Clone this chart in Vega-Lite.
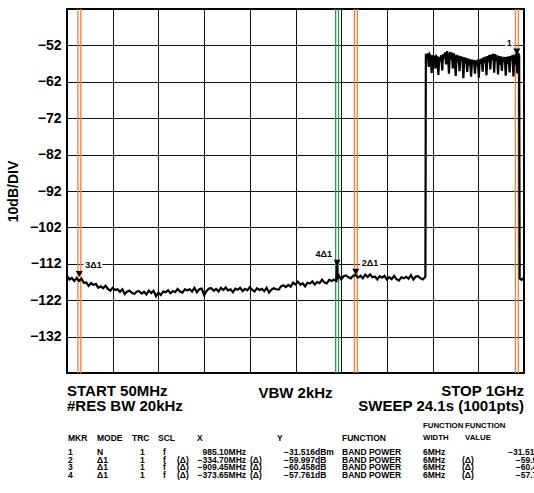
{
  "$schema": "https://vega.github.io/schema/vega-lite/v6.json",
  "width": 457,
  "height": 364,
  "autosize": "none",
  "padding": {"left": 67, "top": 9, "right": 10, "bottom": 120},
  "background": "white",
  "config": {
    "view": {"stroke": "#000", "strokeWidth": 2},
    "font": "Liberation Sans",
    "text": {"font": "Liberation Sans", "fontWeight": "bold", "color": "#000"}
  },
  "datasets": {
    "one": [{}],
    "trace": [
      {"f":50,"db":-115.3},{"f":55,"db":-116.3},{"f":60,"db":-115.9},{"f":65,"db":-116.7},{"f":70,"db":-115.9},
      {"f":75,"db":-116.7},{"f":80,"db":-116.1},{"f":85,"db":-117.2},{"f":90,"db":-117.1},{"f":95,"db":-118.1},
      {"f":100,"db":-117.3},{"f":105,"db":-117.8},{"f":110,"db":-117.5},{"f":115,"db":-118.6},{"f":120,"db":-118.2},
      {"f":125,"db":-118.7},{"f":130,"db":-118.0},{"f":135,"db":-118.9},{"f":140,"db":-119.4},{"f":145,"db":-118.6},
      {"f":150,"db":-119.2},{"f":155,"db":-119.0},{"f":160,"db":-119.7},{"f":165,"db":-119.0},{"f":170,"db":-120.3},
      {"f":175,"db":-119.6},{"f":180,"db":-119.4},{"f":185,"db":-120.0},{"f":190,"db":-120.3},{"f":195,"db":-119.6},
      {"f":200,"db":-119.5},{"f":205,"db":-120.2},{"f":210,"db":-119.7},{"f":215,"db":-120.4},{"f":220,"db":-119.4},
      {"f":225,"db":-120.0},{"f":230,"db":-119.4},{"f":235,"db":-120.9},{"f":240,"db":-119.9},{"f":245,"db":-120.6},
      {"f":250,"db":-119.6},{"f":255,"db":-119.8},{"f":260,"db":-119.3},{"f":265,"db":-120.1},{"f":270,"db":-119.5},
      {"f":275,"db":-119.8},{"f":280,"db":-118.9},{"f":285,"db":-119.6},{"f":290,"db":-119.9},{"f":295,"db":-119.0},
      {"f":300,"db":-119.3},{"f":305,"db":-119.0},{"f":310,"db":-119.6},{"f":315,"db":-118.6},{"f":320,"db":-119.8},
      {"f":325,"db":-119.0},{"f":330,"db":-118.8},{"f":335,"db":-120.6},{"f":340,"db":-119.5},{"f":345,"db":-118.8},
      {"f":350,"db":-118.7},{"f":355,"db":-119.4},{"f":360,"db":-118.9},{"f":365,"db":-119.6},{"f":370,"db":-118.6},
      {"f":375,"db":-119.2},{"f":380,"db":-118.5},{"f":385,"db":-119.3},{"f":390,"db":-119.0},{"f":395,"db":-119.8},
      {"f":400,"db":-118.8},{"f":405,"db":-119.1},{"f":410,"db":-118.6},{"f":415,"db":-119.5},{"f":420,"db":-118.9},
      {"f":425,"db":-119.3},{"f":430,"db":-118.4},{"f":435,"db":-119.2},{"f":440,"db":-119.6},{"f":445,"db":-118.7},
      {"f":450,"db":-119.2},{"f":455,"db":-118.9},{"f":460,"db":-119.5},{"f":465,"db":-118.6},{"f":470,"db":-119.9},
      {"f":475,"db":-119.1},{"f":480,"db":-118.7},{"f":485,"db":-119.0},{"f":490,"db":-119.1},{"f":495,"db":-118.2},
      {"f":500,"db":-117.9},{"f":505,"db":-118.4},{"f":510,"db":-117.8},{"f":515,"db":-118.3},{"f":520,"db":-117.2},
      {"f":525,"db":-117.7},{"f":530,"db":-116.9},{"f":535,"db":-117.7},{"f":540,"db":-117.4},{"f":545,"db":-118.2},
      {"f":550,"db":-117.2},{"f":555,"db":-117.4},{"f":560,"db":-116.8},{"f":565,"db":-117.7},{"f":570,"db":-117.0},
      {"f":575,"db":-117.3},{"f":580,"db":-116.4},{"f":585,"db":-117.1},{"f":590,"db":-117.4},{"f":595,"db":-116.4},
      {"f":600,"db":-116.7},{"f":605,"db":-116.3},{"f":610,"db":-116.7},{"f":611,"db":-112.4},{"f":612,"db":-116.2},
      {"f":615,"db":-115.2},{"f":620,"db":-116.3},
      {"f":625,"db":-115.4},{"f":630,"db":-115.2},{"f":635,"db":-115.7},{"f":640,"db":-116.0},{"f":645,"db":-115.3},
      {"f":650,"db":-115.1},{"f":655,"db":-115.8},{"f":660,"db":-115.3},{"f":665,"db":-116.0},{"f":670,"db":-115.0},
      {"f":675,"db":-115.6},{"f":680,"db":-114.9},{"f":685,"db":-115.7},{"f":690,"db":-115.5},{"f":695,"db":-116.3},
      {"f":700,"db":-115.4},{"f":705,"db":-115.8},{"f":710,"db":-115.3},{"f":715,"db":-116.3},{"f":720,"db":-115.7},
      {"f":725,"db":-116.2},{"f":730,"db":-115.3},{"f":735,"db":-116.2},{"f":740,"db":-116.6},{"f":745,"db":-115.7},
      {"f":750,"db":-116.0},{"f":755,"db":-115.6},{"f":760,"db":-116.1},{"f":765,"db":-115.1},{"f":770,"db":-116.3},
      {"f":775,"db":-115.5},{"f":780,"db":-115.4},{"f":785,"db":-116.0},{"f":790,"db":-116.3},{"f":795,"db":-115.5},
      {"f":796,"db":-54.3},{"f":798,"db":-55.5},{"f":800,"db":-54.2},{"f":802,"db":-57.9},{"f":804,"db":-54.5},
      {"f":806,"db":-55.0},{"f":808,"db":-59.6},{"f":810,"db":-54.7},{"f":812,"db":-56.2},{"f":814,"db":-54.8},
      {"f":816,"db":-58.4},{"f":818,"db":-55.0},{"f":820,"db":-55.3},{"f":822,"db":-60.1},{"f":824,"db":-55.1},
      {"f":826,"db":-56.5},{"f":828,"db":-54.7},{"f":830,"db":-58.9},{"f":832,"db":-54.4},{"f":834,"db":-55.6},
      {"f":836,"db":-53.9},{"f":838,"db":-57.2},{"f":840,"db":-53.6},{"f":842,"db":-55.0},{"f":844,"db":-59.8},
      {"f":846,"db":-53.8},{"f":848,"db":-56.0},{"f":850,"db":-54.0},{"f":852,"db":-58.3},{"f":854,"db":-54.2},
      {"f":856,"db":-55.4},{"f":858,"db":-60.4},{"f":860,"db":-54.6},{"f":862,"db":-56.7},{"f":864,"db":-54.8},
      {"f":866,"db":-59.1},{"f":868,"db":-55.0},{"f":870,"db":-56.1},{"f":872,"db":-55.1},{"f":874,"db":-61.0},
      {"f":876,"db":-55.3},{"f":878,"db":-57.0},{"f":880,"db":-55.4},{"f":882,"db":-59.3},{"f":884,"db":-55.6},
      {"f":886,"db":-57.5},{"f":888,"db":-55.8},{"f":890,"db":-60.6},{"f":892,"db":-55.9},{"f":894,"db":-57.2},
      {"f":896,"db":-56.0},{"f":898,"db":-59.8},{"f":900,"db":-56.1},{"f":902,"db":-57.6},{"f":904,"db":-55.9},
      {"f":906,"db":-60.9},{"f":908,"db":-55.8},{"f":910,"db":-57.0},{"f":912,"db":-55.6},{"f":914,"db":-59.2},
      {"f":916,"db":-55.3},{"f":918,"db":-56.8},{"f":920,"db":-55.1},{"f":922,"db":-60.2},{"f":924,"db":-54.9},
      {"f":926,"db":-56.6},{"f":928,"db":-54.6},{"f":930,"db":-58.6},{"f":932,"db":-54.5},{"f":934,"db":-55.9},
      {"f":936,"db":-54.3},{"f":938,"db":-59.5},{"f":940,"db":-54.4},{"f":942,"db":-56.2},{"f":944,"db":-54.7},
      {"f":946,"db":-60.0},{"f":948,"db":-54.9},{"f":950,"db":-57.3},{"f":952,"db":-55.0},{"f":954,"db":-59.0},
      {"f":956,"db":-55.2},{"f":958,"db":-56.4},{"f":960,"db":-55.2},{"f":962,"db":-60.3},{"f":964,"db":-55.1},
      {"f":966,"db":-57.1},{"f":968,"db":-55.0},{"f":970,"db":-59.4},{"f":972,"db":-54.9},{"f":974,"db":-56.0},
      {"f":976,"db":-54.7},{"f":978,"db":-60.5},{"f":980,"db":-54.5},{"f":982,"db":-57.4},{"f":984,"db":-54.3},
      {"f":986,"db":-59.7},{"f":988,"db":-54.2},{"f":990,"db":-54.8},{"f":991,"db":-116.0},{"f":995,"db":-116.4},
      {"f":1000,"db":-115.8}
    ],
    "markers": [
      {"m":"1","label":"1","f":985.10,"level":-53.7,"lo":982.10,"hi":988.10},
      {"m":"2","label":"2Δ1","f":650.40,"level":-114.2,"lo":647.40,"hi":653.40},
      {"m":"3","label":"3Δ1","f":75.65,"level":-114.8,"lo":72.65,"hi":78.65},
      {"m":"4","label":"4Δ1","f":611.45,"level":-111.7,"lo":608.45,"hi":614.45}
    ],
    "table": [
      {"row":1,"mkr":"1","mode":"N","trc":"1","scl":"f","sd":"","x":"985.10MHz","xd":"","y":"−31.516dBm","fn":"BAND POWER","fw":"6MHz","vd":"","fv":"−31.516dBm"},
      {"row":2,"mkr":"2","mode":"Δ1","trc":"1","scl":"f","sd":"(Δ)","x":"−334.70MHz","xd":"(Δ)","y":"−59.997dB","fn":"BAND POWER","fw":"6MHz","vd":"(Δ)","fv":"−59.997dB"},
      {"row":3,"mkr":"3","mode":"Δ1","trc":"1","scl":"f","sd":"(Δ)","x":"−909.45MHz","xd":"(Δ)","y":"−60.458dB","fn":"BAND POWER","fw":"6MHz","vd":"(Δ)","fv":"−60.458dB"},
      {"row":4,"mkr":"4","mode":"Δ1","trc":"1","scl":"f","sd":"(Δ)","x":"−373.65MHz","xd":"(Δ)","y":"−57.761dB","fn":"BAND POWER","fw":"6MHz","vd":"(Δ)","fv":"−57.761dB"}
    ]
  },
  "layer": [
    {
      "layer": [
        {
          "data": {"name": "markers"},
          "mark": {"type": "rule", "strokeWidth": 1.3},
          "encoding": {
            "x": {"field": "lo", "type": "quantitative", "scale": {"domain": [50, 1000], "nice": false, "zero": false}},
            "color": {"field": "m", "type": "nominal", "scale": {"domain": ["1","2","3","4"], "range": ["#f5813a","#f5813a","#f5813a","#22a04b"]}, "legend": null}
          }
        },
        {
          "data": {"name": "markers"},
          "mark": {"type": "rule", "strokeWidth": 1.3},
          "encoding": {
            "x": {"field": "hi", "type": "quantitative"},
            "color": {"field": "m", "type": "nominal", "legend": null}
          }
        },
        {
          "data": {"name": "trace"},
          "mark": {"type": "line", "color": "#000", "strokeWidth": 2.2, "clip": true},
          "encoding": {
            "x": {"field": "f", "type": "quantitative", "scale": {"domain": [50, 1000], "nice": false, "zero": false},
              "axis": {"values": [145,240,335,430,525,620,715,810,905], "grid": true, "gridColor": "#111", "gridWidth": 1, "gridOpacity": 1, "labels": false, "ticks": false, "domain": false, "title": null}},
            "y": {"field": "db", "type": "quantitative", "scale": {"domain": [-142, -42], "nice": false, "zero": false},
              "axis": {"values": [-132,-122,-112,-102,-92,-82,-72,-62,-52], "grid": true, "gridColor": "#111", "gridWidth": 1, "gridOpacity": 1, "ticks": false, "domain": false,
                "labelFont": "Liberation Sans", "labelFontWeight": "bold", "labelFontSize": 14, "labelColor": "#000", "labelPadding": 6,
                "title": "10dB/DIV", "titleFont": "Liberation Sans", "titleFontWeight": "bold", "titleFontSize": 14, "titleColor": "#000", "titlePadding": 9}}
          }
        },
        {
          "data": {"name": "markers"},
          "mark": {"type": "point", "shape": "triangle-down", "filled": true, "color": "#000", "size": 50, "opacity": 1},
          "encoding": {
            "x": {"field": "f", "type": "quantitative"},
            "y": {"field": "level", "type": "quantitative"}
          }
        },
        {
          "data": {"name": "markers"},
          "transform": [{"filter": "datum.m == '1' || datum.m == '4'"}],
          "mark": {"type": "text", "align": "right", "baseline": "middle", "dx": -5, "dy": -9, "fontSize": 9, "fill": "white", "stroke": "white", "strokeWidth": 4},
          "encoding": {"x": {"field": "f", "type": "quantitative"}, "y": {"field": "level", "type": "quantitative"}, "text": {"field": "label"}}
        },
        {
          "data": {"name": "markers"},
          "transform": [{"filter": "datum.m == '1' || datum.m == '4'"}],
          "mark": {"type": "text", "align": "right", "baseline": "middle", "dx": -5, "dy": -9, "fontSize": 9, "fill": "#000"},
          "encoding": {"x": {"field": "f", "type": "quantitative"}, "y": {"field": "level", "type": "quantitative"}, "text": {"field": "label"}}
        },
        {
          "data": {"name": "markers"},
          "transform": [{"filter": "datum.m == '2' || datum.m == '3'"}],
          "mark": {"type": "text", "align": "left", "baseline": "middle", "dx": 6, "dy": -9, "fontSize": 9, "fill": "white", "stroke": "white", "strokeWidth": 4},
          "encoding": {"x": {"field": "f", "type": "quantitative"}, "y": {"field": "level", "type": "quantitative"}, "text": {"field": "label"}}
        },
        {
          "data": {"name": "markers"},
          "transform": [{"filter": "datum.m == '2' || datum.m == '3'"}],
          "mark": {"type": "text", "align": "left", "baseline": "middle", "dx": 6, "dy": -9, "fontSize": 9, "fill": "#000"},
          "encoding": {"x": {"field": "f", "type": "quantitative"}, "y": {"field": "level", "type": "quantitative"}, "text": {"field": "label"}}
        },
        {
          "data": {"name": "one"},
          "mark": {"type": "text", "align": "left", "baseline": "alphabetic", "dy": 23.3, "fontSize": 15, "lineHeight": 14.7, "text": ["START 50MHz", "#RES BW 20kHz"]},
          "encoding": {"x": {"datum": 50}, "y": {"datum": -142}}
        },
        {
          "data": {"name": "one"},
          "mark": {"type": "text", "align": "right", "baseline": "alphabetic", "dy": 23.3, "fontSize": 15, "lineHeight": 14.7, "text": ["STOP 1GHz", "SWEEP 24.1s (1001pts)"]},
          "encoding": {"x": {"datum": 1000}, "y": {"datum": -142}}
        },
        {
          "data": {"name": "one"},
          "mark": {"type": "text", "align": "center", "baseline": "alphabetic", "dy": 25.3, "fontSize": 15, "text": "VBW 2kHz"},
          "encoding": {"x": {"datum": 525}, "y": {"datum": -142}}
        },
        {"data": {"name": "one"}, "mark": {"type": "text", "align": "left", "baseline": "middle", "dy": 64.8, "fontSize": 8.5, "text": "MKR"}, "encoding": {"x": {"datum": 52.1}, "y": {"datum": -142}}},
        {"data": {"name": "one"}, "mark": {"type": "text", "align": "left", "baseline": "middle", "dy": 64.8, "fontSize": 8.5, "text": "MODE"}, "encoding": {"x": {"datum": 112.4}, "y": {"datum": -142}}},
        {"data": {"name": "one"}, "mark": {"type": "text", "align": "left", "baseline": "middle", "dy": 64.8, "fontSize": 8.5, "text": "TRC"}, "encoding": {"x": {"datum": 185.1}, "y": {"datum": -142}}},
        {"data": {"name": "one"}, "mark": {"type": "text", "align": "left", "baseline": "middle", "dy": 64.8, "fontSize": 8.5, "text": "SCL"}, "encoding": {"x": {"datum": 239.2}, "y": {"datum": -142}}},
        {"data": {"name": "one"}, "mark": {"type": "text", "align": "left", "baseline": "middle", "dy": 64.8, "fontSize": 8.5, "text": "X"}, "encoding": {"x": {"datum": 320.2}, "y": {"datum": -142}}},
        {"data": {"name": "one"}, "mark": {"type": "text", "align": "left", "baseline": "middle", "dy": 64.8, "fontSize": 8.5, "text": "Y"}, "encoding": {"x": {"datum": 486.5}, "y": {"datum": -142}}},
        {"data": {"name": "one"}, "mark": {"type": "text", "align": "left", "baseline": "middle", "dy": 64.8, "fontSize": 8.5, "text": "FUNCTION"}, "encoding": {"x": {"datum": 621.7}, "y": {"datum": -142}}},
        {"data": {"name": "one"}, "mark": {"type": "text", "align": "left", "baseline": "middle", "dy": 53.3, "fontSize": 7.8, "lineHeight": 11.5, "text": ["FUNCTION", "WIDTH"]}, "encoding": {"x": {"datum": 790.1}, "y": {"datum": -142}}},
        {"data": {"name": "one"}, "mark": {"type": "text", "align": "left", "baseline": "middle", "dy": 53.3, "fontSize": 7.8, "lineHeight": 11.5, "text": ["FUNCTION", "VALUE"]}, "encoding": {"x": {"datum": 877.5}, "y": {"datum": -142}}}
      ]
    },
    {
      "data": {"name": "table"},
      "encoding": {
        "y": {"field": "row", "type": "quantitative", "scale": {"domain": [1, 4], "range": [443.2, 466], "nice": false, "zero": false}, "axis": null}
      },
      "layer": [
        {"mark": {"type": "text", "align": "left", "baseline": "middle", "fontSize": 8.5}, "encoding": {"x": {"datum": 52.1}, "text": {"field": "mkr"}}},
        {"mark": {"type": "text", "align": "left", "baseline": "middle", "fontSize": 8.5}, "encoding": {"x": {"datum": 112.4}, "text": {"field": "mode"}}},
        {"mark": {"type": "text", "align": "left", "baseline": "middle", "fontSize": 8.5}, "encoding": {"x": {"datum": 201.8}, "text": {"field": "trc"}}},
        {"mark": {"type": "text", "align": "left", "baseline": "middle", "fontSize": 8.5}, "encoding": {"x": {"datum": 249.6}, "text": {"field": "scl"}}},
        {"mark": {"type": "text", "align": "left", "baseline": "middle", "fontSize": 8.5}, "encoding": {"x": {"datum": 278.7}, "text": {"field": "sd"}}},
        {"mark": {"type": "text", "align": "right", "baseline": "middle", "fontSize": 8.5}, "encoding": {"x": {"datum": 422.2}, "text": {"field": "x"}}},
        {"mark": {"type": "text", "align": "left", "baseline": "middle", "fontSize": 8.5}, "encoding": {"x": {"datum": 430.4}, "text": {"field": "xd"}}},
        {"mark": {"type": "text", "align": "left", "baseline": "middle", "fontSize": 8.5}, "encoding": {"x": {"datum": 501.1}, "text": {"field": "y"}}},
        {"mark": {"type": "text", "align": "left", "baseline": "middle", "fontSize": 8.5}, "encoding": {"x": {"datum": 621.7}, "text": {"field": "fn"}}},
        {"mark": {"type": "text", "align": "left", "baseline": "middle", "fontSize": 8.5}, "encoding": {"x": {"datum": 790.1}, "text": {"field": "fw"}}},
        {"mark": {"type": "text", "align": "left", "baseline": "middle", "fontSize": 8.5}, "encoding": {"x": {"datum": 871}, "text": {"field": "vd"}}},
        {"mark": {"type": "text", "align": "right", "baseline": "middle", "fontSize": 8.5}, "encoding": {"x": {"datum": 1070.7}, "text": {"field": "fv"}}}
      ]
    }
  ],
  "resolve": {"scale": {"y": "independent"}}
}
